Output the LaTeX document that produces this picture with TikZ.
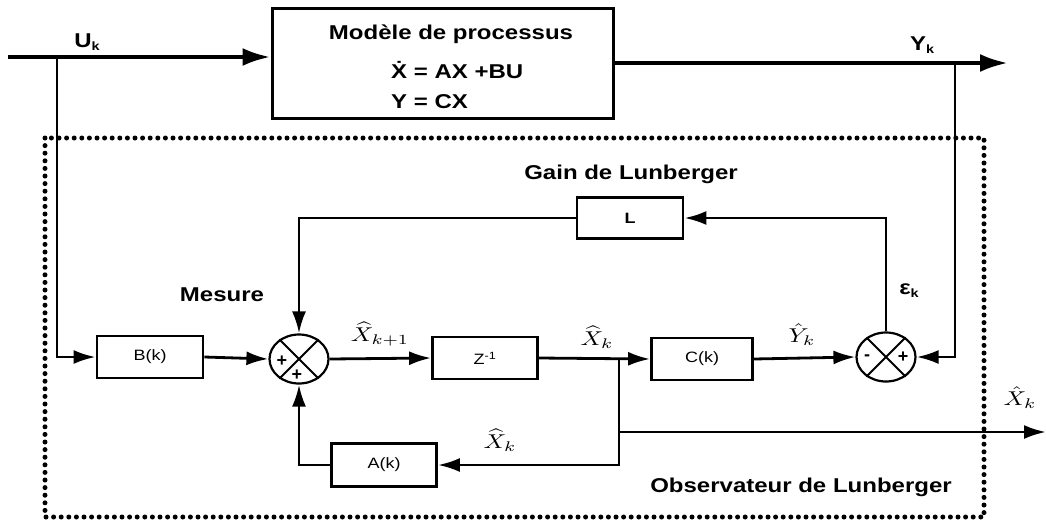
\documentclass[tikz,border=0pt]{standalone}
\usepackage{fontspec}
\setmainfont{Liberation Sans}
\usepackage{graphicx}
\usetikzlibrary{arrows.meta,shapes.geometric}
\newcommand\hs[1]{\scalebox{1.2}[1]{#1}}
\newcommand\mhs[1]{\scalebox{2.5}[2.0]{$#1$}}
\tikzset{
  arr/.style={line width=2.8pt,-{Latex[length=22pt,width=14pt]}},
  bigarr/.style={line width=4.2pt,-{Latex[length=28pt,width=18pt]}},
  blk/.style={draw,line width=2.8pt,inner sep=0pt,font=\fontsize{15}{18}\selectfont},
  sumnode/.style={draw,ellipse,line width=2.2pt,minimum width=59pt,minimum height=49pt,inner sep=0pt},
  lab/.style={font=\fontsize{20}{24}\selectfont\bfseries,inner sep=0pt},
  mlab/.style={inner sep=0pt},
  pm/.style={font=\fontsize{18}{18}\selectfont\bfseries,inner sep=0pt},
}
\begin{document}
\begin{tikzpicture}[x=1pt,y=-1pt]
\useasboundingbox (0,0) rectangle (1046,520);
% process model
\node[draw,line width=3pt,minimum width=341pt,minimum height=110pt,inner sep=0pt] (proc) at (442.5,63) {};
\node[lab] (t1) at (451,34) {\hs{Modèle de processus}};
\node[lab,anchor=west] (t2) at (391,70) {\hs{\.X = AX +BU}};
\node[lab,anchor=west] (t3) at (391,102) {\hs{Y = CX}};
% input / output
\coordinate (in) at (8,57);
\coordinate (bu) at (57,57);
\coordinate (outR) at (1008,63);
\coordinate (by) at (955,63);
\draw[bigarr] (in) -- (in -| proc.west);
\draw[bigarr] (proc.east) -- (outR);
\node[lab] (uk) at (87,42) {\hs{U{\fontsize{12}{12}\selectfont\raisebox{-3pt}{k}}}};
\node[lab] (yk) at (922,45) {\hs{Y{\fontsize{12}{12}\selectfont\raisebox{-3pt}{k}}}};
% observer frame
\draw[line width=5pt,dash pattern=on 0pt off 7.6pt,line cap=round] (45,138) rectangle (984,517);
% blocks
\node[blk,minimum width=106pt,minimum height=42pt] (Bk) at (150,357) {\hs{B(k)}};
\node[blk,minimum width=105pt,minimum height=42pt] (Z) at (485,358) {\hs{Z\textsuperscript{-1}}};
\node[blk,minimum width=101pt,minimum height=42pt] (Ck) at (702,359) {\hs{C(k)}};
\node[blk,minimum width=105pt,minimum height=43pt] (Ak) at (384,465) {\hs{A(k)}};
\node[blk,minimum width=106pt,minimum height=41pt,font=\fontsize{15}{18}\selectfont\bfseries] (L) at (630,218) {\hs{L}};
% summing junctions
\node[sumnode] (s1) at (299,359) {};
\draw[line width=2pt] (s1.45) -- (s1.225) (s1.135) -- (s1.315);
\node[pm] (p1) at (282,361) {+};
\node[pm] (p2) at (297,375) {+};
\node[sumnode] (s2) at (886,357) {};
\draw[line width=2pt] (s2.45) -- (s2.225) (s2.135) -- (s2.315);
\node[pm] (m3) at (867,358) {-};
\node[pm] (p3) at (903,357) {+};
% connectors
\draw[arr] (bu) |- (Bk.west);
\draw[arr] (Bk.east) -- (s1.west);
\draw[arr] (s1.east) -- (Z.west);
\draw[arr] (Z.east) -- (Ck.west);
\draw[arr] (Ck.east) -- (s2.west);
\draw[arr] (by) |- (s2.east);
\draw[arr] (s2.north) |- (L.east);
\draw[arr] (L.west) -| (s1.north);
\coordinate (b2) at (619,359);
\coordinate (b3) at (619,432);
\coordinate (xo) at (1046,432);
\draw[arr] (b2) |- (Ak.east);
\draw[arr] (b3) -- (xo);
\draw[arr] (Ak.west) -| (s1.south);
% labels
\node[lab] (gain) at (631,174) {\hs{Gain de Lunberger}};
\node[lab] (mes) at (222,295) {\hs{Mesure}};
\node[lab] (obs) at (801,487) {\hs{Observateur de Lunberger}};
\node[lab] (eps) at (909,291) {\hs{ε{\fontsize{12}{12}\selectfont\raisebox{-3pt}{k}}}};
\node[mlab] (x1) at (380,334) {\mhs{\widehat{X}_{k+1}}};
\node[mlab] (x2) at (597,337) {\mhs{\widehat{X}_{k}}};
\node[mlab] (x3) at (500,440) {\mhs{\widehat{X}_{k}}};
\node[mlab] (y2) at (802,335) {\mhs{\hat{Y}_{k}}};
\node[mlab] (x4) at (1020,398) {\mhs{\hat{X}_{k}}};
\end{tikzpicture}
\end{document}
